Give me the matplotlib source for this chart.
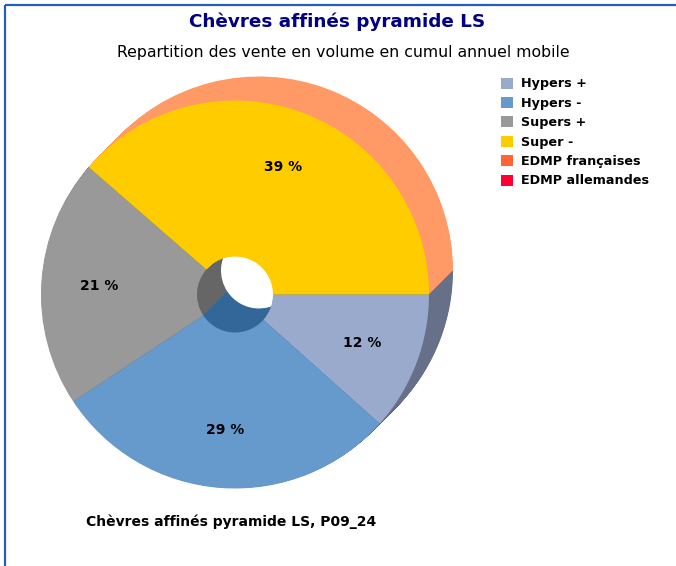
import numpy as np
from matplotlib import pyplot as plt
from matplotlib.patches import Patch

# Share of volume per channel (%)
categories = ['Hypers +', 'Hypers -', 'Supers +', 'Super -',
              'EDMP françaises', 'EDMP allemandes']
shares = [11.6, 29.1, 20.7, 38.6, 0.0, 0.0]
colors = ['#99AACC', '#6699CC', '#999999', '#FFCC00', '#FF6633', '#FF0033']
side_colors = ['#667088', '#336699', '#666666', '#FF9966', '#CC5522', '#CC0022']

title = 'Chèvres affinés pyramide LS'
subtitle = 'Repartition des vente en volume en cumul annuel mobile'
footer = 'Chèvres affinés pyramide LS, P09_24'

W, H = 676, 566
fig = plt.figure(figsize=(W / 100, H / 100), dpi=100)
ax = fig.add_axes([0, 0, 1, 1])

# pie geometry in pixel units
cx, cy = 235, 271.5
R, r_hole = 194, 38
depth = 24

# empty slices are only listed in the legend
vals = [v for v in shares if v > 0]
face = [c for c, v in zip(colors, shares) if v > 0]
side = [c for c, v in zip(side_colors, shares) if v > 0]

# extruded sides: copies of the ring stacked from the back face to the front
for t in np.linspace(1, 0, 49)[:-1]:
    ax.pie(vals, colors=side, startangle=0, counterclock=False, radius=R,
           center=(cx + t * depth, cy + t * depth),
           wedgeprops=dict(width=R - r_hole, linewidth=0))

# front face with percentage labels
ax.pie(vals, colors=face, startangle=0, counterclock=False, radius=R,
       center=(cx, cy), wedgeprops=dict(width=R - r_hole, linewidth=0),
       autopct='%.0f %%', pctdistance=0.7,
       textprops=dict(fontsize=10, fontweight='bold', color='black'))

ax.set_xlim(0, W)
ax.set_ylim(0, H)
ax.set_aspect('equal')
ax.axis('off')

# frame lines on the top and left edges
ax.plot([5, 5], [0, H - 5], color='#1F5FBF', lw=1.6, solid_capstyle='butt')
ax.plot([5, W], [H - 5, H - 5], color='#1F5FBF', lw=1.6, solid_capstyle='butt')

ax.text(337, H - 22, title, ha='center', va='center', fontsize=13.2,
        fontweight='bold', color='#000080')
ax.text(343, H - 52, subtitle, ha='center', va='center', fontsize=11.3,
        color='black')
ax.text(86, H - 522, footer, ha='left', va='center', fontsize=10,
        fontweight='bold', color='black')

handles = [Patch(facecolor=c, edgecolor='none') for c in colors]
ax.legend(handles, categories, loc='upper left', bbox_to_anchor=(489 / W, 1 - 66 / H),
          frameon=False, handlelength=0.95, handleheight=0.95, handletextpad=0.65,
          labelspacing=0.5, prop=dict(weight='bold', size=9.2))

fig.savefig('out.png', dpi=100)
